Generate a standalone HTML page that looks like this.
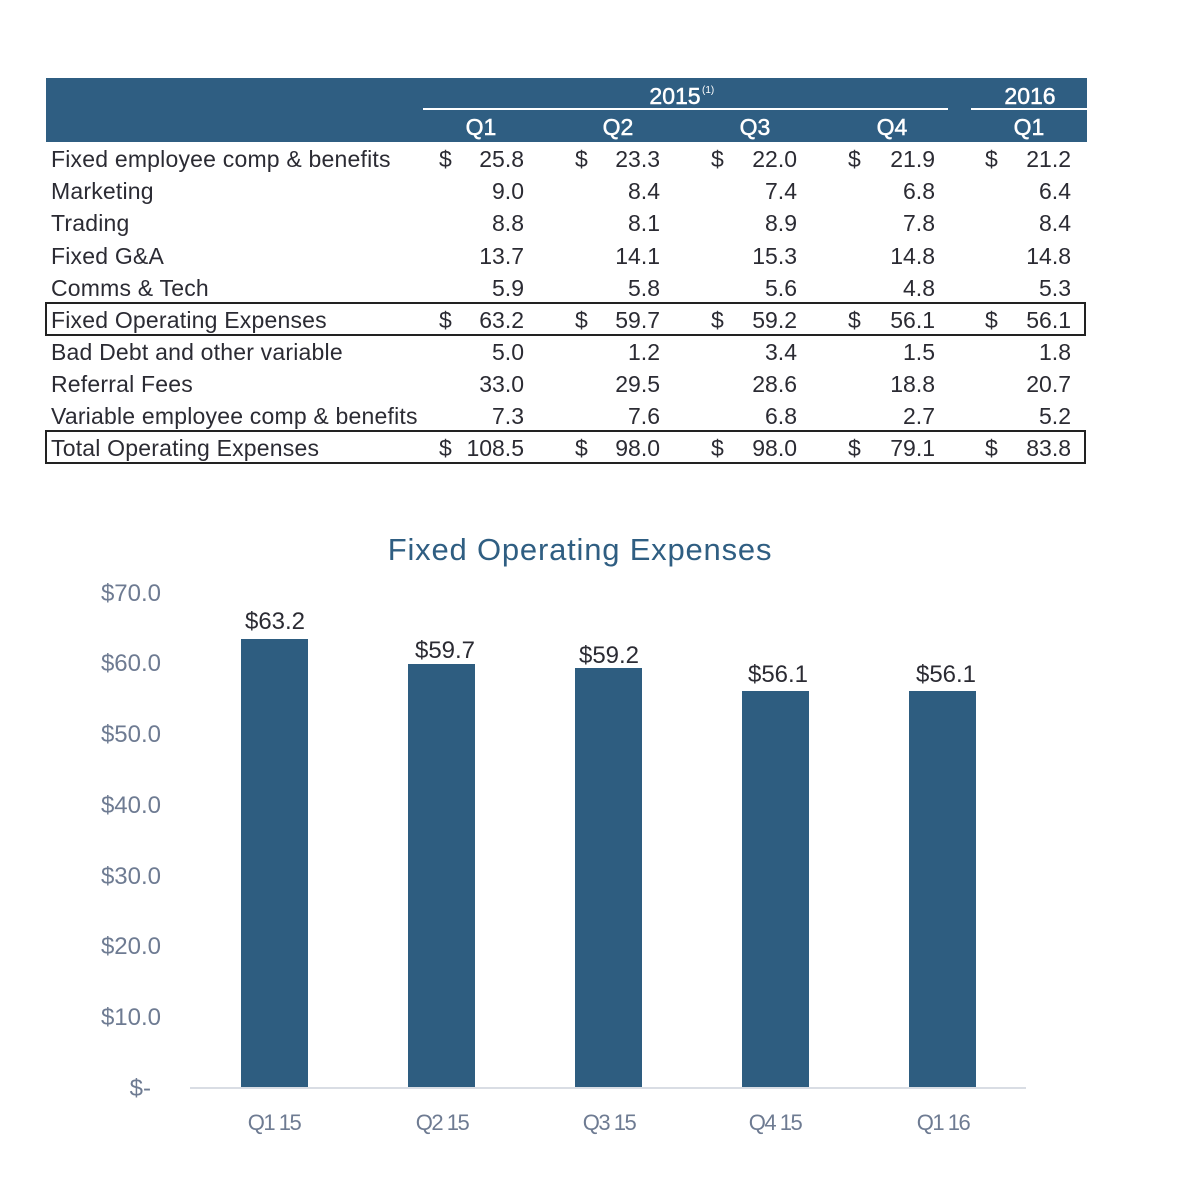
<!DOCTYPE html>
<html>
<head>
<meta charset="utf-8">
<style>
html,body{margin:0;padding:0;background:#fff;}
svg{display:block;}
text{font-family:"Liberation Sans",Arial,sans-serif;}
.t{font-size:23px;fill:#2b2b33;letter-spacing:0.2px;}
.n{font-size:23px;fill:#2b2b33;text-anchor:end;}
.d{font-size:23px;fill:#2b2b33;}
.h{font-size:23px;fill:#ffffff;text-anchor:middle;stroke:#ffffff;stroke-width:0.5px;}
.y{font-size:24px;fill:#6e7b92;text-anchor:end;}
.v{font-size:24px;fill:#2b2b33;text-anchor:middle;}
.x{font-size:22px;fill:#6e7b92;text-anchor:middle;letter-spacing:-1.5px;}
</style>
</head>
<body>
<svg width="1192" height="1198" viewBox="0 0 1192 1198" xmlns="http://www.w3.org/2000/svg">
<rect x="0" y="0" width="1192" height="1198" fill="#ffffff"/>
<!-- header bar -->
<rect x="46" y="78" width="1041" height="64" fill="#2f5e82"/>
<line x1="423" y1="109" x2="948" y2="109" stroke="#ffffff" stroke-width="2"/>
<line x1="971" y1="109" x2="1087" y2="109" stroke="#ffffff" stroke-width="2"/>
<text class="h" x="675" y="104">2015</text>
<text x="702" y="93" style="font-size:10px;fill:#fff;">(1)</text>
<text class="h" x="1030" y="104">2016</text>
<text class="h" x="481" y="135">Q1</text>
<text class="h" x="618" y="135">Q2</text>
<text class="h" x="755" y="135">Q3</text>
<text class="h" x="892" y="135">Q4</text>
<text class="h" x="1029" y="135">Q1</text>

<!-- boxes -->
<rect x="46" y="303" width="1039" height="32" fill="none" stroke="#222" stroke-width="2"/>
<rect x="46" y="431" width="1039" height="32" fill="none" stroke="#222" stroke-width="2"/>

<!-- labels -->
<text class="t" x="51" y="167">Fixed employee comp &amp; benefits</text>
<text class="t" x="51" y="199">Marketing</text>
<text class="t" x="51" y="231">Trading</text>
<text class="t" x="51" y="264">Fixed G&amp;A</text>
<text class="t" x="51" y="296">Comms &amp; Tech</text>
<text class="t" x="51" y="328">Fixed Operating Expenses</text>
<text class="t" x="51" y="360">Bad Debt and other variable</text>
<text class="t" x="51" y="392">Referral Fees</text>
<text class="t" x="51" y="424">Variable employee comp &amp; benefits</text>
<text class="t" x="51" y="456">Total Operating Expenses</text>

<!-- dollar signs -->
<g>
<text class="d" x="439" y="167">$</text><text class="d" x="575" y="167">$</text><text class="d" x="711" y="167">$</text><text class="d" x="848" y="167">$</text><text class="d" x="985" y="167">$</text>
<text class="d" x="439" y="328">$</text><text class="d" x="575" y="328">$</text><text class="d" x="711" y="328">$</text><text class="d" x="848" y="328">$</text><text class="d" x="985" y="328">$</text>
<text class="d" x="439" y="456">$</text><text class="d" x="575" y="456">$</text><text class="d" x="711" y="456">$</text><text class="d" x="848" y="456">$</text><text class="d" x="985" y="456">$</text>
</g>

<!-- values col Q1 -->
<text class="n" x="524" y="167">25.8</text>
<text class="n" x="524" y="199">9.0</text>
<text class="n" x="524" y="231">8.8</text>
<text class="n" x="524" y="264">13.7</text>
<text class="n" x="524" y="296">5.9</text>
<text class="n" x="524" y="328">63.2</text>
<text class="n" x="524" y="360">5.0</text>
<text class="n" x="524" y="392">33.0</text>
<text class="n" x="524" y="424">7.3</text>
<text class="n" x="524" y="456">108.5</text>
<!-- Q2 -->
<text class="n" x="660" y="167">23.3</text>
<text class="n" x="660" y="199">8.4</text>
<text class="n" x="660" y="231">8.1</text>
<text class="n" x="660" y="264">14.1</text>
<text class="n" x="660" y="296">5.8</text>
<text class="n" x="660" y="328">59.7</text>
<text class="n" x="660" y="360">1.2</text>
<text class="n" x="660" y="392">29.5</text>
<text class="n" x="660" y="424">7.6</text>
<text class="n" x="660" y="456">98.0</text>
<!-- Q3 -->
<text class="n" x="797" y="167">22.0</text>
<text class="n" x="797" y="199">7.4</text>
<text class="n" x="797" y="231">8.9</text>
<text class="n" x="797" y="264">15.3</text>
<text class="n" x="797" y="296">5.6</text>
<text class="n" x="797" y="328">59.2</text>
<text class="n" x="797" y="360">3.4</text>
<text class="n" x="797" y="392">28.6</text>
<text class="n" x="797" y="424">6.8</text>
<text class="n" x="797" y="456">98.0</text>
<!-- Q4 -->
<text class="n" x="935" y="167">21.9</text>
<text class="n" x="935" y="199">6.8</text>
<text class="n" x="935" y="231">7.8</text>
<text class="n" x="935" y="264">14.8</text>
<text class="n" x="935" y="296">4.8</text>
<text class="n" x="935" y="328">56.1</text>
<text class="n" x="935" y="360">1.5</text>
<text class="n" x="935" y="392">18.8</text>
<text class="n" x="935" y="424">2.7</text>
<text class="n" x="935" y="456">79.1</text>
<!-- 2016 Q1 -->
<text class="n" x="1071" y="167">21.2</text>
<text class="n" x="1071" y="199">6.4</text>
<text class="n" x="1071" y="231">8.4</text>
<text class="n" x="1071" y="264">14.8</text>
<text class="n" x="1071" y="296">5.3</text>
<text class="n" x="1071" y="328">56.1</text>
<text class="n" x="1071" y="360">1.8</text>
<text class="n" x="1071" y="392">20.7</text>
<text class="n" x="1071" y="424">5.2</text>
<text class="n" x="1071" y="456">83.8</text>

<!-- Chart -->
<text x="580" y="560" text-anchor="middle" style="font-size:31px;fill:#2f5e82;letter-spacing:0.8px;">Fixed Operating Expenses</text>

<text class="y" x="161" y="601">$70.0</text>
<text class="y" x="161" y="671">$60.0</text>
<text class="y" x="161" y="742">$50.0</text>
<text class="y" x="161" y="813">$40.0</text>
<text class="y" x="161" y="884">$30.0</text>
<text class="y" x="161" y="954">$20.0</text>
<text class="y" x="161" y="1025">$10.0</text>
<text class="y" x="151" y="1096">$-</text>

<line x1="190" y1="1088" x2="1026" y2="1088" stroke="#d9dde4" stroke-width="2"/>

<rect x="241" y="639" width="67" height="448" fill="#2e5d80"/>
<rect x="408" y="664" width="67" height="423" fill="#2e5d80"/>
<rect x="575" y="668" width="67" height="419" fill="#2e5d80"/>
<rect x="742" y="691" width="67" height="396" fill="#2e5d80"/>
<rect x="909" y="691" width="67" height="396" fill="#2e5d80"/>

<text class="v" x="275" y="629">$63.2</text>
<text class="v" x="445" y="658">$59.7</text>
<text class="v" x="609" y="663">$59.2</text>
<text class="v" x="778" y="682">$56.1</text>
<text class="v" x="946" y="682">$56.1</text>

<text class="x" x="274" y="1130">Q1 15</text>
<text class="x" x="442" y="1130">Q2 15</text>
<text class="x" x="609" y="1130">Q3 15</text>
<text class="x" x="775" y="1130">Q4 15</text>
<text class="x" x="943" y="1130">Q1 16</text>
</svg>
</body>
</html>
